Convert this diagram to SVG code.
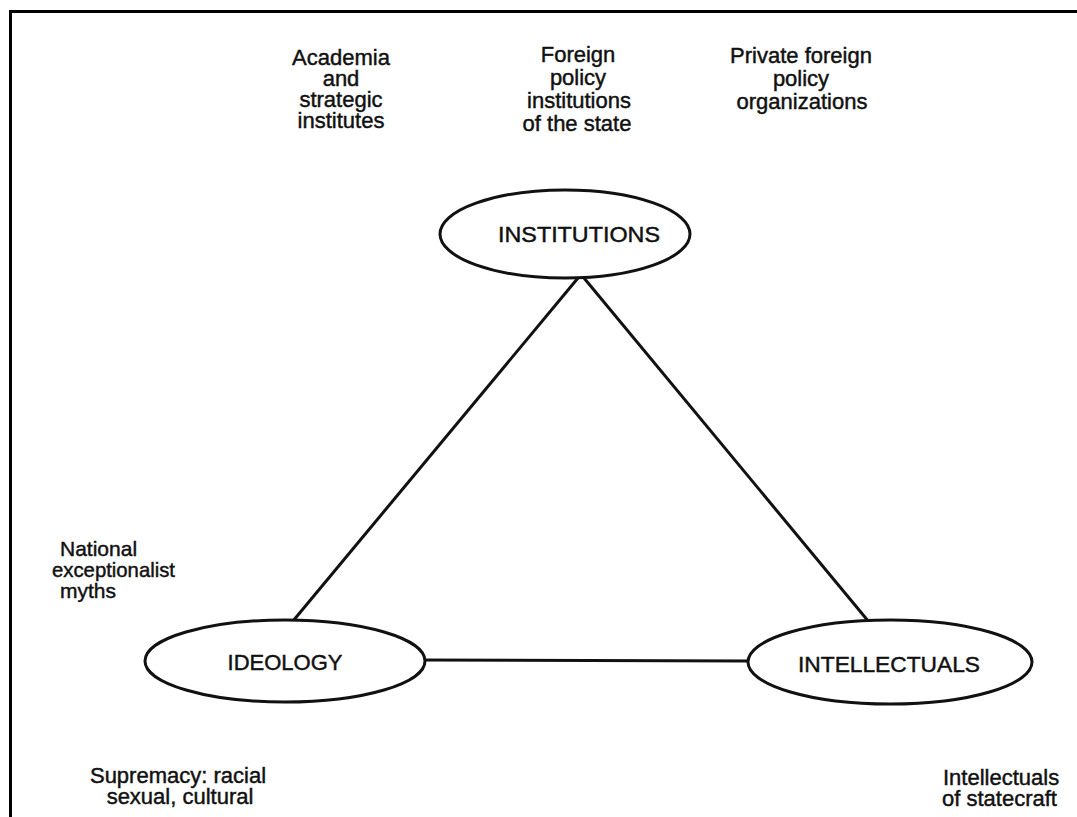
<svg xmlns="http://www.w3.org/2000/svg" width="1077" height="817" viewBox="0 0 1077 817">
<style>
text{font-family:"Liberation Sans",Arial,sans-serif;font-size:22px;fill:#111;stroke:#111;stroke-width:0.45;}
.c{text-anchor:middle;}
.s{font-size:21px;}
.node ellipse{fill:#fff;stroke:#111;stroke-width:3;}
.edge{stroke:#111;stroke-width:3;fill:none;}
.frame{stroke:#000;stroke-width:3;fill:none;}
</style>
<rect width="1077" height="817" fill="#fff"/>
<path class="frame" d="M10.5,817 V11.5 H1077"/>
<g id="connectors">
<line class="edge" x1="578" y1="278" x2="293" y2="621"/>
<line class="edge" x1="584" y1="278" x2="869" y2="622"/>
<line class="edge" x1="425" y1="660" x2="748" y2="661"/>
</g>
<g id="institutions" class="node">
<ellipse cx="565" cy="234" rx="125" ry="44"/>
<text class="c" x="579" y="242" textLength="162" lengthAdjust="spacingAndGlyphs">INSTITUTIONS</text>
</g>
<g id="ideology" class="node">
<ellipse cx="285" cy="661" rx="140" ry="41"/>
<text class="c" x="285" y="670">IDEOLOGY</text>
</g>
<g id="intellectuals" class="node">
<ellipse cx="890" cy="662" rx="142" ry="42"/>
<text class="c" x="889" y="672" textLength="182" lengthAdjust="spacingAndGlyphs">INTELLECTUALS</text>
</g>
<g id="label-academia">
<text class="c" x="341" y="65">Academia</text>
<text class="c" x="341" y="86">and</text>
<text class="c" x="341" y="107">strategic</text>
<text class="c" x="341" y="128">institutes</text>
</g>
<g id="label-foreign">
<text class="c" x="578" y="62">Foreign</text>
<text class="c" x="578" y="85">policy</text>
<text class="c" x="579" y="108">institutions</text>
<text class="c" x="577" y="131">of the state</text>
</g>
<g id="label-private">
<text class="c" x="801" y="63">Private foreign</text>
<text class="c" x="801" y="86">policy</text>
<text class="c" x="802" y="109">organizations</text>
</g>
<g id="label-national">
<text class="s" x="60" y="556">National</text>
<text class="s" x="52" y="577" textLength="123" lengthAdjust="spacingAndGlyphs">exceptionalist</text>
<text class="s" x="60" y="598">myths</text>
</g>
<g id="label-supremacy">
<text class="c" x="178" y="783">Supremacy: racial</text>
<text class="c" x="180" y="804">sexual, cultural</text>
</g>
<g id="label-statecraft">
<text x="943" y="785">Intellectuals</text>
<text x="942" y="806">of statecraft</text>
</g>
</svg>
